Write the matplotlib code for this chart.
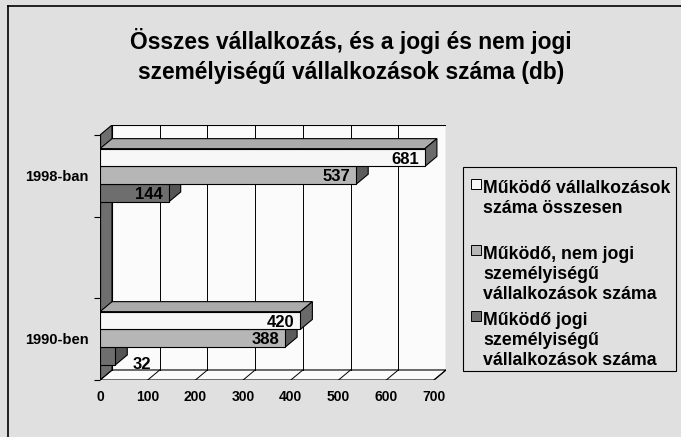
import numpy as np
import matplotlib.pyplot as plt
from matplotlib.patches import Polygon, Rectangle
from matplotlib.lines import Line2D

plt.rcParams["font.family"] = ["Liberation Sans", "DejaVu Sans"]
plt.rcParams["font.weight"] = "bold"

# data
categories = ["1990-ben", "1998-ban"]
osszes = [420, 681]
nem_jogi = [388, 537]
jogi = [32, 144]
series = [osszes, nem_jogi, jogi]
series_labels = ["Működő vállalkozások\nszáma összesen",
                 "Működő, nem jogi\nszemélyiségű\nvállalkozások száma",
                 "Működő jogi\nszemélyiségű\nvállalkozások száma"]
x_ticks = [0, 100, 200, 300, 400, 500, 600, 700]
title_lines = ["Összes vállalkozás, és a jogi és nem jogi",
               "személyiségű vállalkozások száma (db)"]

front = ["#f7f7f7", "#b6b6b6", "#6e6e6e"]
top = ["#ababab", "#8e8e8e", "#8a8a8a"]
side = ["#6a6a6a", "#5c5c5c", "#555555"]

W, H = 681, 437
fig = plt.figure(figsize=(W / 100, H / 100), dpi=100, facecolor="#e0e0e0")

# pseudo 3d geometry (pixels)
PX = 0.4771      # pixels per value unit
DX, DY = 12, 10  # depth offset
UNIT = 163       # pixels between the two categories
dxv = DX / PX
dyv = DY / UNIT
ybot = -41.7 / UNIT
ytop = ybot + 255 / UNIT
xmax = x_ticks[-1] + dxv

ax = fig.add_axes([100 / W, (H - 380) / H, xmax * PX / W, 255 / H])
ax.set_xlim(0, xmax)
ax.set_ylim(ybot, ytop)
ax.set_facecolor("none")
for s in ax.spines.values():
    s.set_visible(False)

# back wall, floor, side wall
ax.add_patch(Rectangle((dxv, ybot + dyv), x_ticks[-1], ytop - ybot - dyv,
                       fc="#fbfbfb", ec="black", lw=0.8, zorder=0))
ax.add_patch(Polygon([(0, ybot), (dxv, ybot + dyv), (x_ticks[-1] + dxv, ybot + dyv),
                      (x_ticks[-1], ybot)], fc="#fbfbfb", ec="black", lw=0.8, zorder=0.2))
for v in x_ticks:
    ax.plot([v + dxv, v + dxv], [ybot + dyv, ytop], color="black", lw=0.7, zorder=0.5)
    ax.plot([v, v + dxv], [ybot, ybot + dyv], color="black", lw=0.7, zorder=0.5)
ax.add_patch(Polygon([(0, ybot), (dxv, ybot + dyv), (dxv, ytop), (0, ytop - dyv)],
                     fc="#6e6e6e", ec="black", lw=0.8, zorder=1))
ax.plot([0, 0], [ybot, ytop - dyv], color="black", lw=0.9, zorder=1.5)

# bars
h = 0.109
for i in range(len(categories)):
    for k in (2, 1, 0):
        v = series[k][i]
        y = i + (1 - k) * h
        z = 2 + i * 3 + (2 - k)
        y0, y1 = y - h / 2, y + h / 2
        ax.add_patch(Polygon([(0, y1), (dxv, y1 + dyv), (v + dxv, y1 + dyv), (v, y1)],
                             fc=top[k], ec="black", lw=0.8, zorder=z))
        ax.add_patch(Polygon([(v, y0), (v, y1), (v + dxv, y1 + dyv), (v + dxv, y0 + dyv)],
                             fc=side[k], ec="black", lw=0.8, zorder=z))
        ax.barh(y, v, height=h, color=front[k], edgecolor="black", linewidth=0.8, zorder=z)
        if v > 60:
            ax.text(v - 6 / PX, y, str(v), ha="right", va="center_baseline",
                    fontsize=12, zorder=20)
        else:
            ax.text(v + dxv + 5 / PX, y - 7 / UNIT, str(v), ha="left",
                    va="center_baseline", fontsize=12, zorder=20)

ax.set_xticks(x_ticks)
ax.set_xticklabels([str(t) for t in x_ticks], fontsize=10)
ax.tick_params(axis="x", length=0, pad=7)
ax.set_yticks(range(len(categories)))
ax.set_yticklabels(categories, fontsize=10.5)
ax.tick_params(axis="y", length=0, pad=8)
ax.set_yticks(np.linspace(ybot, ytop - dyv, 4), minor=True)
ax.tick_params(axis="y", which="minor", length=4, width=0.8, direction="out")

# title
for j, line in enumerate(title_lines):
    fig.text(351 / W, 1 - (49 + 30 * j) / H, line, ha="center", va="baseline",
             fontsize=16.4)

# legend
fig.add_artist(Rectangle((463 / W, 1 - 371 / H), 213 / W, 204 / H,
                         transform=fig.transFigure, fill=False, ec="black", lw=0.8))
for k, lab in enumerate(series_labels):
    base = 193 + 66 * k
    fig.add_artist(Rectangle((471 / W, 1 - (base - 4) / H), 10 / W, 10 / H,
                             transform=fig.transFigure, fc=front[k], ec="black", lw=0.7))
    for n, line in enumerate(lab.split("\n")):
        fig.text(483 / W, 1 - (base + 20 * n) / H, line, ha="left", va="baseline",
                 fontsize=12.8)

# frame
fig.add_artist(Line2D([7.5 / W, 7.5 / W], [0, 1 - 5.5 / H], color="black", lw=1.2))
fig.add_artist(Line2D([7.5 / W, 1], [1 - 5.5 / H, 1 - 5.5 / H], color="black", lw=1.2))

plt.savefig("out.png", dpi=100, facecolor=fig.get_facecolor())
